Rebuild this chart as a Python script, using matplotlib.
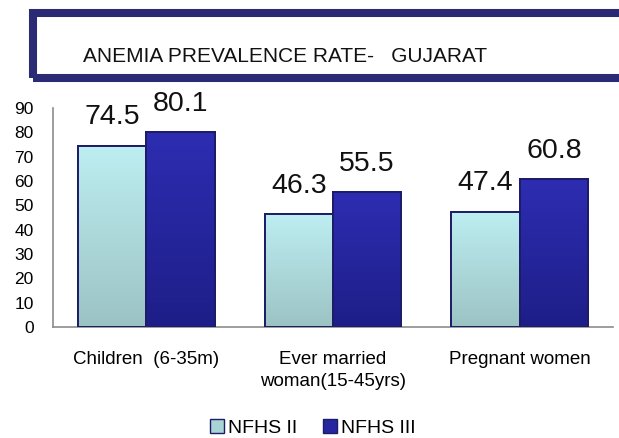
import numpy as np
import matplotlib.pyplot as plt
from matplotlib.patches import Rectangle
from matplotlib.colors import LinearSegmentedColormap

plt.rcParams['font.family'] = ['Liberation Sans', 'DejaVu Sans']

categories = ["Children  (6-35m)", "Ever married\nwoman(15-45yrs)", "Pregnant women"]
nfhs2 = [74.5, 46.3, 47.4]
nfhs3 = [80.1, 55.5, 60.8]
series_names = ["NFHS II", "NFHS III"]
yticks = list(range(0, 100, 10))

W, H = 619, 438
fig = plt.figure(figsize=(W / 100, H / 100), dpi=100)

# title box (runs off the right edge like the slide)
fig.patches.append(Rectangle((33 / W, 1 - 77.5 / H), (650 - 33) / W, 65 / H,
                             transform=fig.transFigure, fill=False,
                             edgecolor='#2b2b75', linewidth=5.8))
fig.text(285 / W, 1 - 56.5 / H, "ANEMIA PREVALENCE RATE-   GUJARAT",
         ha='center', va='center', fontsize=15, color='#111111')

ax = fig.add_axes([53 / W, 1 - 327 / H, (613 - 53) / W, 219 / H])
ax.set_xlim(-0.5, 2.5)
ax.set_ylim(0, 90)

light = LinearSegmentedColormap.from_list('l', ['#9cc3c4', '#bdeef1'])
dark = LinearSegmentedColormap.from_list('d', ['#1e1e88', '#2d2db2'])
grad = np.linspace(0, 1, 100).reshape(-1, 1)

w = 0.366
x = np.arange(len(categories))
for xs, vals, cmap, face in [(x - w / 2, nfhs2, light, '#aedadd'),
                             (x + w / 2, nfhs3, dark, '#2626a0')]:
    bars = ax.bar(xs, vals, width=w, color=face, edgecolor='#1c1c68',
                  linewidth=1.4, zorder=2)
    for b, v in zip(bars, vals):
        x0 = b.get_x()
        im = ax.imshow(grad, cmap=cmap, extent=[x0, x0 + w, 0, v],
                       origin='lower', aspect='auto', zorder=2.5)
        im.set_clip_path(b)
        ax.add_patch(Rectangle((x0, 0), w, v, fill=False, edgecolor='#1c1c68',
                               linewidth=1.4, zorder=3))
        ax.annotate(f"{v}", (x0 + w / 2, v), xytext=(0, 11),
                    textcoords='offset points', ha='center', va='bottom',
                    fontsize=20.5, color='#111111')

ax.set_xticks(x)
ax.set_xticklabels(categories, fontsize=13.5, linespacing=1.45)
ax.set_yticks(yticks)
ax.tick_params(axis='y', length=0, pad=14, labelsize=12.5)
ax.tick_params(axis='x', length=0, pad=17)
for s in ['top', 'right']:
    ax.spines[s].set_visible(False)
for s in ['left', 'bottom']:
    ax.spines[s].set_color('#8c8c8c')
    ax.spines[s].set_linewidth(1.2)

handles = [Rectangle((0, 0), 1, 1, facecolor='#a8d4d6', edgecolor='#1c1c68'),
           Rectangle((0, 0), 1, 1, facecolor='#2626a0', edgecolor='#1c1c68')]
fig.legend(handles, series_names, loc='center', bbox_to_anchor=(0.505, 1 - 428 / H),
           ncol=2, frameon=False, fontsize=14, handlelength=0.75, handleheight=0.75,
           handletextpad=0.2, columnspacing=1.3, borderpad=0)

fig.savefig('out.png', dpi=100)
